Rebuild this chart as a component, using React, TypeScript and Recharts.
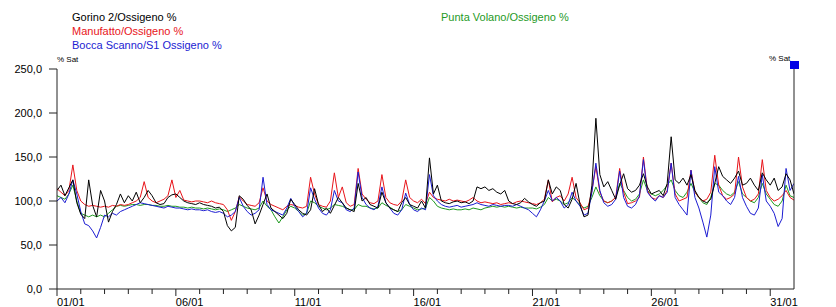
import React from "react";
import { LineChart, Line, XAxis, YAxis } from "recharts";

// one reading every 4 hours, 6 per day, from 01/01 00:00 to 01/02 00:00
const STEP_HOURS = 4;

// Gorino 2/Ossigeno %
const gorino = [
  112, 118, 106, 115, 124, 98,
  85, 80, 124, 95, 82, 112,
  100, 76, 88, 96, 108, 98,
  106, 100, 110, 98, 104, 112,
  106, 98, 96, 97, 104, 107,
  108, 104, 100, 98, 97, 96,
  98, 96, 95, 94, 92, 93,
  88, 72, 66, 70, 106, 102,
  95, 90, 74, 84, 96, 108,
  92, 88, 84, 80, 86, 102,
  96, 90, 86, 84, 90, 114,
  96, 88, 92, 86, 95, 104,
  98, 92, 90, 88, 120, 100,
  104, 96, 94, 92, 110, 98,
  92, 90, 88, 98, 104, 96,
  94, 92, 100, 92, 149, 108,
  118, 100, 98, 97, 99, 100,
  98, 99, 97, 100, 116, 114,
  116, 112, 114, 110, 108, 112,
  100, 97, 96, 98, 103, 99,
  96, 94, 98, 100, 124, 108,
  116, 112, 96, 92, 102, 120,
  96, 82, 84, 118, 194, 130,
  116, 122, 112, 102, 118, 131,
  114, 110, 112, 118, 131, 116,
  108, 110, 112, 106, 120, 173,
  124, 120, 126, 118, 130, 112,
  104, 100, 98, 102, 120, 139,
  128, 124, 120, 126, 134, 118,
  120, 126, 118, 112, 132, 124,
  118, 126, 112, 116, 131, 124,
  108,
];

// Manufatto/Ossigeno %
const manufatto = [
  114, 110, 106, 112, 141, 112,
  100, 96, 94, 95, 94, 93,
  94, 93, 95, 94, 96, 95,
  96, 98, 100, 104, 122, 104,
  100, 98, 100, 102, 106, 124,
  104, 112, 101, 100, 99, 100,
  100, 99, 98, 100, 98, 97,
  96, 90, 78, 88, 105, 100,
  96, 95, 94, 98, 115, 100,
  96, 94, 92, 90, 94, 96,
  95, 93, 92, 94, 127, 108,
  96, 94, 93, 100, 132, 104,
  116, 98, 94, 96, 137, 108,
  102, 98, 97, 100, 130, 104,
  98, 96, 95, 100, 124, 104,
  100, 98, 102, 97, 110, 104,
  102, 101, 100, 102, 100, 101,
  100, 99, 101, 104, 100, 98,
  99, 98, 97, 98, 96, 97,
  98, 97, 99, 100, 99, 98,
  97, 96, 98, 102, 124, 99,
  104, 106, 100, 108, 127, 104,
  98, 90, 92, 112, 139, 110,
  100, 98, 100, 104, 137, 110,
  97, 98, 100, 104, 150, 112,
  104, 102, 106, 104, 112, 143,
  108, 100, 102, 104, 135, 110,
  104, 100, 102, 110, 152, 118,
  106, 102, 104, 108, 150, 116,
  104, 100, 102, 108, 147, 112,
  104, 100, 102, 106, 112, 104,
  101,
];

// Bocca Scanno/S1 Ossigeno %
const boccaScanno = [
  100, 104, 98, 108, 124, 108,
  88, 74, 72, 66, 58, 70,
  84, 82, 86, 84, 88, 90,
  92, 94, 96, 98, 97, 96,
  95, 94, 93, 92, 94, 93,
  92, 92, 91, 90, 91, 90,
  90, 89, 90, 88, 87, 88,
  86, 82, 84, 88, 104, 94,
  88, 84, 86, 90, 127, 96,
  90, 88, 86, 84, 92, 103,
  94, 88, 82, 86, 115, 102,
  92, 86, 84, 90, 112, 100,
  98, 90, 88, 92, 133, 104,
  96, 92, 90, 94, 116, 98,
  92, 86, 84, 90, 109, 96,
  90, 88, 92, 90, 130, 106,
  100, 96, 94, 93, 94, 95,
  93, 94, 95, 96, 98, 96,
  95, 94, 96, 95, 94, 95,
  95, 94, 96, 94, 92, 90,
  86, 82, 90, 100, 112, 100,
  104, 100, 92, 96, 110, 100,
  94, 84, 86, 110, 143, 112,
  98, 94, 96, 102, 134, 104,
  94, 92, 96, 106, 147, 110,
  104, 100, 106, 104, 110, 143,
  104, 96, 90, 84, 135, 104,
  92, 76, 59, 84, 139, 110,
  106, 100, 96, 104, 128, 104,
  94, 86, 84, 92, 130, 100,
  94, 86, 71, 80, 137, 112,
  120,
];

// Punta Volano/Ossigeno %
const puntaVolano = [
  106, 104, 102, 108, 118, 100,
  86, 84, 82, 84, 82, 84,
  82, 86, 90, 94, 95, 94,
  95, 96, 96, 95, 96, 96,
  95, 95, 94, 94, 95, 94,
  94, 93, 93, 92, 93, 92,
  92, 91, 92, 91, 90, 91,
  90, 88, 90, 92, 96, 94,
  92, 91, 90, 92, 100, 94,
  90, 82, 75, 82, 90, 94,
  92, 88, 84, 86, 100, 98,
  94, 92, 90, 92, 96, 95,
  94, 92, 90, 90, 96, 94,
  94, 92, 91, 92, 98, 95,
  93, 90, 88, 90, 96, 94,
  92, 90, 91, 92, 104, 100,
  94, 92, 91, 90, 91, 90,
  90, 91, 90, 92, 91, 90,
  92, 93, 94, 93, 94, 93,
  94, 93, 92, 93, 92, 92,
  92, 91, 93, 96, 104, 100,
  102, 100, 96, 98, 104, 100,
  96, 92, 94, 104, 116, 106,
  100, 98, 100, 104, 120, 112,
  104, 100, 102, 108, 124, 112,
  108, 106, 108, 112, 118, 124,
  112, 106, 104, 110, 120, 110,
  104, 98, 96, 104, 120, 118,
  112, 108, 106, 110, 122, 108,
  104, 100, 98, 104, 120, 108,
  102, 96, 94, 100, 118, 106,
  104,
];

const dayTicks = Array.from({ length: 31 }, (_, i) => i);
const dateLabels = ["01/01", "06/01", "11/01", "16/01", "21/01", "26/01", "31/01"];
const yTicks = [0, 50, 100, 150, 200, 250];

const series = [
  { key: "puntaVolano", name: "Punta Volano/Ossigeno %", color: "#1f9a1f", values: puntaVolano },
  { key: "manufatto", name: "Manufatto/Ossigeno %", color: "#e8141a", values: manufatto },
  { key: "boccaScanno", name: "Bocca Scanno/S1 Ossigeno %", color: "#1c1cd2", values: boccaScanno },
  { key: "gorino", name: "Gorino 2/Ossigeno %", color: "#000000", values: gorino },
];

const data = gorino.map((_, i) => {
  const row: Record<string, number> = { t: (i * STEP_HOURS) / 24 };
  series.forEach((s) => (row[s.key] = s.values[i]));
  return row;
});

const FONT = "'Liberation Sans', Arial, sans-serif";
const fmt = (v: number) => v.toFixed(1).replace(".", ",");

// legend text positions as laid out in the original
const legendPos: Record<string, { left: number; top: number }> = {
  gorino: { left: 72, top: 11 },
  manufatto: { left: 72, top: 25 },
  boccaScanno: { left: 72, top: 39 },
  puntaVolano: { left: 441, top: 11 },
};

function DateTick({ x, y, payload }: any) {
  const d = payload.value;
  const major = d % 5 === 0;
  return (
    <g>
      <line x1={x} y1={y} x2={x} y2={y + (major ? 7 : 5)} stroke="#222" />
      {major && (
        <text x={x} y={y + 17} textAnchor="start" fontSize={11} fontFamily={FONT} fill="#000">
          {dateLabels[d / 5]}
        </text>
      )}
    </g>
  );
}

function SatLabel({ viewBox, side }: any) {
  const { x, y, width } = viewBox;
  if (side === "left") {
    return (
      <text x={x + width} y={y - 7} fontSize={8} fontFamily={FONT} fill="#000">
        % Sat
      </text>
    );
  }
  return (
    <g>
      <text x={x - 25} y={y - 8} fontSize={8} fontFamily={FONT} fill="#000">
        % Sat
      </text>
      <rect x={x - 4} y={y - 8} width={9} height={8} fill="#0000e6" />
    </g>
  );
}

function LegendBlock() {
  return (
    <>
      {series.map((s) => (
        <div
          key={s.key}
          style={{
            position: "absolute",
            left: legendPos[s.key].left,
            top: legendPos[s.key].top,
            color: s.color,
            fontSize: 11,
            fontFamily: FONT,
            lineHeight: "13px",
            whiteSpace: "nowrap",
          }}
        >
          {s.name}
        </div>
      ))}
    </>
  );
}

export default function App() {
  return (
    <div style={{ position: "absolute", left: 0, top: 0, width: 836, height: 307, background: "#fff" }}>
      <LineChart width={836} height={307} data={data} margin={{ top: 69, right: 0, bottom: 0, left: 0 }}>
        <XAxis
          dataKey="t"
          type="number"
          domain={[0, 31]}
          ticks={dayTicks}
          interval={0}
          tick={<DateTick />}
          tickLine={false}
          tickSize={0}
          tickMargin={0}
          height={18}
          axisLine={{ stroke: "#222" }}
          allowDataOverflow
        />
        <YAxis
          yAxisId="left"
          domain={[0, 250]}
          ticks={yTicks}
          width={57}
          tickSize={8}
          tickMargin={7}
          tickFormatter={fmt}
          tick={{ fontSize: 11, fontFamily: FONT, fill: "#000" }}
          axisLine={{ stroke: "#222" }}
          tickLine={{ stroke: "#222" }}
          label={<SatLabel side="left" />}
        />
        <YAxis
          yAxisId="right"
          orientation="right"
          domain={[0, 250]}
          ticks={yTicks}
          width={42}
          tickSize={7}
          tickMargin={8}
          tickFormatter={fmt}
          tick={{ fontSize: 11, fontFamily: FONT, fill: "#000", textAnchor: "start" }}
          axisLine={{ stroke: "#222" }}
          tickLine={{ stroke: "#222" }}
          label={<SatLabel side="right" />}
        />
        {series.map((s) => (
          <Line
            key={s.key}
            yAxisId="left"
            type="linear"
            dataKey={s.key}
            name={s.name}
            stroke={s.color}
            strokeWidth={1}
            dot={false}
            isAnimationActive={false}
          />
        ))}
      </LineChart>
      <LegendBlock />
    </div>
  );
}
